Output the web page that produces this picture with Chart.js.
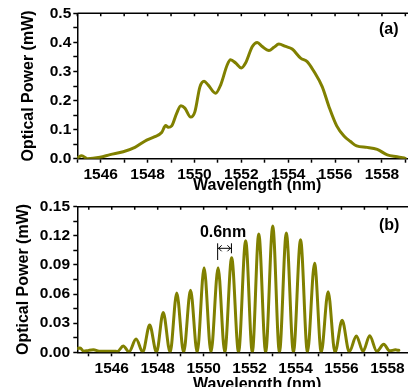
<!DOCTYPE html>
<html>
<head>
<meta charset="utf-8">
<script src="https://cdn.jsdelivr.net/npm/chart.js@4"></script>
<style>
  html, body { margin: 0; padding: 0; background: #fff; overflow: hidden; width: 408px; height: 387px; }
  canvas { position: absolute; left: 0; }
  #chart-a { top: 0; }
  #chart-b { top: 193px; }
</style>
</head>
<body>
<canvas id="chart-a" width="437" height="200"></canvas>
<canvas id="chart-b" width="437" height="200"></canvas>
<script>
// (a) broadband spectrum
const wavelengthA = [1545.0, 1545.19, 1545.43, 1545.97, 1546.40, 1546.96, 1547.46, 1547.96, 1548.31, 1548.60,
  1548.77, 1548.88, 1549.03, 1549.24, 1549.42, 1549.59, 1549.84, 1550.02, 1550.23, 1550.41,
  1550.58, 1550.90, 1551.12, 1551.40, 1551.54, 1551.76, 1552.00, 1552.18, 1552.47, 1552.68,
  1552.89, 1553.18, 1553.39, 1553.60, 1553.89, 1554.17, 1554.53, 1554.81, 1555.10, 1555.45,
  1555.74, 1556.07, 1556.38, 1556.66, 1556.92, 1557.37, 1557.80, 1558.23, 1558.65, 1559.0];
const powerA = [0.003, 0.010, 0.000, 0.005, 0.014, 0.024, 0.039, 0.064, 0.076, 0.090,
  0.114, 0.108, 0.113, 0.156, 0.182, 0.174, 0.143, 0.162, 0.246, 0.266,
  0.254, 0.225, 0.254, 0.323, 0.340, 0.329, 0.312, 0.329, 0.386, 0.400,
  0.386, 0.372, 0.383, 0.394, 0.386, 0.377, 0.346, 0.334, 0.300, 0.248,
  0.179, 0.113, 0.078, 0.059, 0.044, 0.039, 0.032, 0.013, 0.007, 0.001];

// (b) filtered comb, peaks and troughs
const wavelengthB = [1544.5, 1544.62, 1544.78, 1545.0, 1545.2, 1545.5, 1545.8, 1546.1, 1546.25, 1546.5,
  1546.75, 1547.06, 1547.35, 1547.65, 1547.95, 1548.24, 1548.54, 1548.83, 1549.13, 1549.43,
  1549.72, 1550.02, 1550.32, 1550.63, 1550.92, 1551.22, 1551.52, 1551.83, 1552.12, 1552.40,
  1552.70, 1553.01, 1553.30, 1553.60, 1553.91, 1554.22, 1554.52, 1554.83, 1555.12, 1555.42,
  1555.72, 1556.03, 1556.34, 1556.65, 1556.94, 1557.23, 1557.54, 1557.84, 1558.10, 1558.35, 1558.5];
const powerB = [0.004, 0.0045, 0.001, 0.002, 0.0025, 0.001, 0.001, 0.0012, 0.0008, 0.0065,
  0.0005, 0.0137, 0.0003, 0.028, 0.0, 0.041, 0.0, 0.061, 0.0, 0.064,
  0.0, 0.087, 0.0, 0.087, 0.0, 0.0975, 0.0, 0.115, 0.0, 0.122,
  0.0, 0.130, 0.0, 0.123, 0.0, 0.116, 0.0, 0.0917, 0.0, 0.0625,
  0.0, 0.033, 0.0005, 0.0168, 0.001, 0.017, 0.001, 0.0082, 0.0015, 0.0025, 0.002];

const xLabels = [1546, 1548, 1550, 1552, 1554, 1556, 1558];
const spacingMark = [1550.61, 1551.21]; // the 0.6 nm marker

const OLIVE = "#808000";
Chart.defaults.font.family = "'Liberation Sans', Arial, Helvetica, sans-serif";
Chart.defaults.color = "#000";

const framePlugin = {
  id: "frame",
  afterDraw(chart) {
    const { ctx, chartArea: a, scales: { x } } = chart;
    ctx.save();
    ctx.strokeStyle = "#000";
    ctx.lineWidth = 1.5;
    ctx.beginPath();
    ctx.moveTo(a.left, a.top);
    ctx.lineTo(a.right, a.top);
    x.ticks.forEach((t) => {
      const px = x.getPixelForValue(t.value);
      ctx.moveTo(px, a.top);
      ctx.lineTo(px, a.top + 3);
    });
    ctx.stroke();
    ctx.restore();
  },
};

function tagPlugin(text, px, py, drawExtra) {
  return {
    id: "tag",
    afterDraw(chart) {
      const ctx = chart.ctx;
      ctx.save();
      ctx.fillStyle = "#000";
      ctx.font = "bold 16px 'Liberation Sans', Arial, sans-serif";
      ctx.textBaseline = "alphabetic";
      ctx.textAlign = "left";
      ctx.fillText(text, px, py);
      if (drawExtra) drawExtra(chart, ctx);
      ctx.restore();
    },
  };
}

function drawSpacing(chart, ctx) {
  const x = chart.scales.x;
  const x1 = x.getPixelForValue(spacingMark[0]);
  const x2 = x.getPixelForValue(spacingMark[1]);
  const ay = 55.3;
  ctx.textAlign = "center";
  ctx.fillText("0.6nm", 223, 43.7);
  ctx.strokeStyle = "#000";
  ctx.lineWidth = 1;
  ctx.beginPath();
  ctx.moveTo(x1, 50.3); ctx.lineTo(x1, 67);
  ctx.moveTo(x2, 50.3); ctx.lineTo(x2, 60.3);
  ctx.moveTo(x1, ay); ctx.lineTo(x2, ay);
  ctx.moveTo(x1 + 4, ay - 3); ctx.lineTo(x1 + 1, ay); ctx.lineTo(x1 + 4, ay + 3);
  ctx.moveTo(x2 - 4, ay - 3); ctx.lineTo(x2 - 1, ay); ctx.lineTo(x2 - 4, ay + 3);
  ctx.stroke();
}

function makeChart(id, cfg) {
  return new Chart(document.getElementById(id), {
    type: "line",
    data: {
      datasets: [{
        data: cfg.xs.map((x, i) => ({ x, y: cfg.ys[i] })),
        borderColor: OLIVE,
        borderWidth: 3,
        pointRadius: 0,
        cubicInterpolationMode: "monotone",
        borderJoinStyle: "round",
        borderCapStyle: "round",
        fill: false,
      }],
    },
    options: {
      responsive: false,
      animation: false,
      layout: { padding: { top: cfg.top, left: 0, right: 0, bottom: 0 } },
      plugins: { legend: { display: false }, tooltip: { enabled: false } },
      scales: {
        x: {
          type: "linear",
          min: cfg.xMin,
          max: cfg.xMax,
          afterFit: (s) => { s.height = cfg.xBox; },
          border: { color: "#000", width: 1.5 },
          grid: { drawOnChartArea: false, tickLength: 4, tickColor: "#000", tickWidth: 1.5 },
          ticks: {
            stepSize: 1,
            includeBounds: false,
            autoSkip: false,
            maxRotation: 0,
            padding: 3,
            font: { size: 15.5, weight: "bold" },
            callback: (v) => (xLabels.includes(v) ? String(v) : ""),
          },
          title: {
            display: true,
            text: "Wavelength (nm)",
            font: { size: 16, weight: "bold", lineHeight: 1 },
            padding: { top: 0, bottom: cfg.xTitlePad },
          },
        },
        y: {
          min: 0,
          max: cfg.yMax,
          afterFit: (s) => { s.width = 77.3; },
          border: { color: "#000", width: 1.5 },
          grid: { drawOnChartArea: false, tickLength: 4, tickColor: "#000", tickWidth: 1.5 },
          ticks: {
            stepSize: cfg.yStep,
            includeBounds: false,
            autoSkip: false,
            padding: cfg.yPad,
            font: { size: 15.5, weight: "bold" },
            callback: (v, i) => (i % 2 === 0 ? v.toFixed(cfg.yDigits) : ""),
          },
          title: {
            display: true,
            text: "Optical Power (mW)",
            font: { size: 16, weight: "bold", lineHeight: 1 },
            padding: { top: cfg.yTitlePad, bottom: 0 },
          },
        },
      },
    },
    plugins: [framePlugin, cfg.tag],
  });
}

makeChart("chart-a", {
  xs: wavelengthA, ys: powerA,
  xMin: 1545, xMax: 1560.35,
  yMax: 0.5, yStep: 0.05, yDigits: 1, yPad: 2,
  top: 13.3, xBox: 41.3, xTitlePad: 6, yTitlePad: 21,
  tag: tagPlugin("(a)", 379, 34),
});

makeChart("chart-b", {
  xs: wavelengthB, ys: powerB,
  xMin: 1544.5, xMax: 1560.16,
  yMax: 0.15, yStep: 0.015, yDigits: 2, yPad: 3.3,
  top: 13.7, xBox: 40.7, xTitlePad: 0, yTitlePad: 16,
  tag: tagPlugin("(b)", 379, 37, drawSpacing),
});
</script>
</body>
</html>
